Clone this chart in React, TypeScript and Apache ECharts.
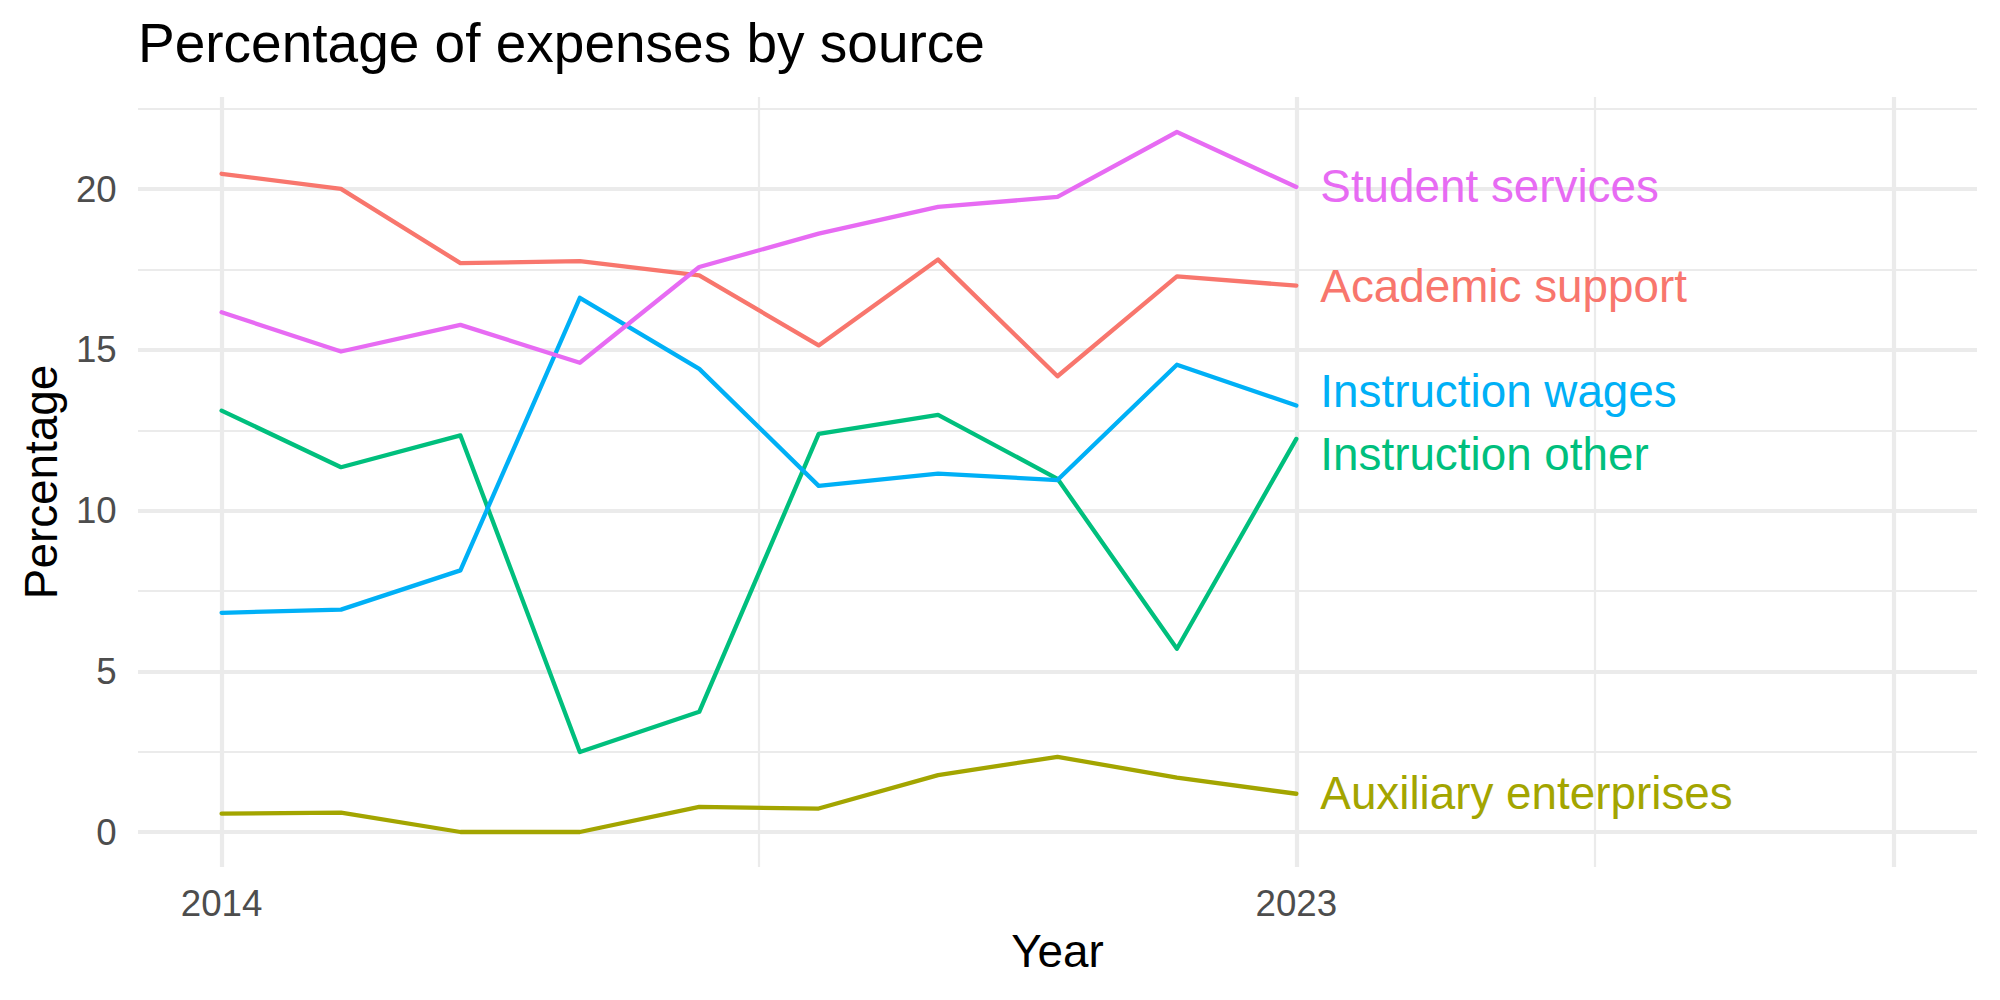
import React, { useEffect, useRef } from "react";
import * as echarts from "echarts";

// Expense shares (%) by source, one value per academic year
const years = [2014, 2015, 2016, 2017, 2018, 2019, 2020, 2021, 2022, 2023];
const academicSupport = [20.48, 20.01, 17.7, 17.76, 17.32, 15.14, 17.81, 14.18, 17.29, 17.0];
const auxiliaryEnterprises = [0.57, 0.6, 0, 0, 0.78, 0.73, 1.77, 2.34, 1.69, 1.19];
const instructionOther = [13.11, 11.35, 12.34, 2.49, 3.74, 12.39, 12.98, 10.99, 5.7, 12.23];
const instructionWages = [6.82, 6.92, 8.14, 16.62, 14.41, 10.77, 11.15, 10.95, 14.54, 13.27];
const studentServices = [16.17, 14.95, 15.78, 14.6, 17.58, 18.62, 19.45, 19.76, 21.78, 20.07];

// Axis breaks
const xMajorBreaks = [2014, 2023, 2028];
const xMinorBreaks = [2018.5, 2025.5];
const xTickLabels = [2014, 2023];
const xLimits = [2014, 2028];
const yMajorBreaks = [0, 5, 10, 15, 20];
const yMinorBreaks = [2.5, 7.5, 12.5, 17.5, 22.5];

const FONT = "Liberation Sans";
const GRID_COLOR = "#EBEBEB";

type SeriesDef = { name: string; values: number[]; color: string; labelDy: number };

const seriesDefs: SeriesDef[] = [
  { name: "Academic support", values: academicSupport, color: "#F8766D", labelDy: 1 },
  { name: "Auxiliary enterprises", values: auxiliaryEnterprises, color: "#A3A500", labelDy: 0 },
  { name: "Instruction other", values: instructionOther, color: "#00BF7D", labelDy: 15.5 },
  { name: "Instruction wages", values: instructionWages, color: "#00B0F6", labelDy: -14.3 },
  { name: "Student services", values: studentServices, color: "#E76BF3", labelDy: 0 },
];

export default function App() {
  const ref = useRef<HTMLDivElement | null>(null);

  useEffect(() => {
    if (!ref.current) return;
    const chart = echarts.init(ref.current, undefined, { renderer: "svg" });

    // 5% expansion on both axes
    const xSpan = xLimits[1] - xLimits[0];
    const xMin = xLimits[0] - 0.05 * xSpan;
    const xMax = xLimits[1] + 0.05 * xSpan;
    const allVals = seriesDefs.flatMap((s) => s.values);
    const yLo = Math.min(...allVals);
    const yHi = Math.max(...allVals);
    const ySpan = yHi - yLo;
    const yMin = yLo - 0.05 * ySpan;
    const yMax = yHi + 0.05 * ySpan;

    const gridLines = [
      ...yMinorBreaks.map((v) => ({ yAxis: v, lineStyle: { width: 2.2 } })),
      ...xMinorBreaks.map((v) => ({ xAxis: v, lineStyle: { width: 2.2 } })),
      ...yMajorBreaks.map((v) => ({ yAxis: v, lineStyle: { width: 4.2 } })),
      ...xMajorBreaks.map((v) => ({ xAxis: v, lineStyle: { width: 4.2 } })),
    ];

    const dataSeries = seriesDefs.map((s) => ({
      name: s.name,
      type: "line" as const,
      z: 3,
      data: years.map((y, i) => [y, s.values[i]]),
      symbol: "none",
      showSymbol: false,
      lineStyle: { color: s.color, width: 4.3, cap: "round" as const, join: "round" as const },
      itemStyle: { color: s.color },
      clip: false,
      endLabel: {
        show: true,
        formatter: s.name,
        color: s.color,
        fontFamily: FONT,
        fontSize: 45.8,
        distance: 24,
        offset: [0, s.labelDy],
      },
    }));

    chart.setOption({
      animation: false,
      backgroundColor: "#FFFFFF",
      textStyle: { fontFamily: FONT },
      title: {
        text: "Percentage of expenses by source",
        left: 138,
        top: 15.5,
        padding: 0,
        textStyle: { fontFamily: FONT, fontSize: 55, fontWeight: "normal", color: "#000000" },
      },
      grid: { left: 138, top: 97, width: 1839, height: 770, containLabel: false },
      xAxis: {
        type: "value",
        min: xMin,
        max: xMax,
        name: "Year",
        nameLocation: "middle",
        nameGap: 61,
        nameTextStyle: { fontFamily: FONT, fontSize: 45.8, color: "#000000" },
        axisLine: { show: false },
        axisTick: { show: false },
        splitLine: { show: false },
        axisLabel: {
          customValues: xTickLabels,
          formatter: (v: number) => String(v),
          fontFamily: FONT,
          fontSize: 36.7,
          color: "#4D4D4D",
          margin: 17.5,
        },
      },
      yAxis: {
        type: "value",
        min: yMin,
        max: yMax,
        name: "Percentage",
        nameLocation: "middle",
        nameRotate: 90,
        nameGap: 74,
        nameTextStyle: { fontFamily: FONT, fontSize: 45.8, color: "#000000" },
        axisLine: { show: false },
        axisTick: { show: false },
        splitLine: { show: false },
        axisLabel: {
          customValues: yMajorBreaks,
          formatter: (v: number) => String(v),
          fontFamily: FONT,
          fontSize: 36.7,
          color: "#4D4D4D",
          margin: 21.3,
        },
      },
      series: [
        {
          name: "grid",
          type: "line",
          z: 1,
          data: [],
          silent: true,
          markLine: {
            z: 1,
            silent: true,
            symbol: ["none", "none"],
            label: { show: false },
            lineStyle: { color: GRID_COLOR, type: "solid" },
            emphasis: { disabled: true },
            data: gridLines,
          },
        },
        ...dataSeries,
      ],
    });

    return () => chart.dispose();
  }, []);

  return (
    <div
      ref={ref}
      style={{ position: "fixed", left: 0, top: 0, width: 2000, height: 1000, background: "#fff" }}
    />
  );
}
